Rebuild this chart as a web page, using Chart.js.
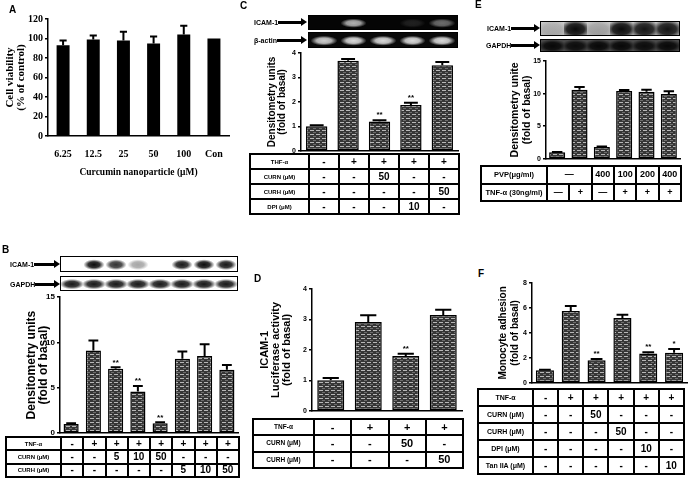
<!DOCTYPE html>
<html>
<head>
<meta charset="utf-8">
<title>ICAM-1 figure</title>
<script src="https://cdn.jsdelivr.net/npm/chart.js@4.4.1/dist/chart.umd.min.js"></script>
<style>
  body { margin: 0; background: #fff; }
  #page { position: relative; width: 688px; height: 478px; overflow: hidden; font-family: Arial, "Liberation Sans", sans-serif; }
  canvas { position: absolute; }
  .letter { position: absolute; font-weight: bold; font-size: 10px; line-height: 1; }
  .tag { position: absolute; display: flex; align-items: center; font-weight: bold; font-size: 7px; height: 10px; white-space: nowrap; }
  .shaft { background: #000; height: 3px; flex: 1; }
  .head { width: 0; height: 0; border-left: 6px solid #000; border-top: 4px solid transparent; border-bottom: 4px solid transparent; }
  .blot { position: absolute; border: 1.5px solid #000; box-sizing: border-box; display: flex; }
  .lane { flex: 1; }
  table.grid { position: absolute; border-collapse: collapse; table-layout: fixed; border: 2.5px solid #000; }
  table.grid td { border: 2px solid #000; text-align: center; padding: 0; font-weight: bold; line-height: 1; overflow: hidden; white-space: nowrap; }
</style>
</head>
<body>
<div id="page">
  <canvas id="chartA"></canvas>
  <canvas id="chartB"></canvas>
  <canvas id="chartC"></canvas>
  <canvas id="chartD"></canvas>
  <canvas id="chartE"></canvas>
  <canvas id="chartF"></canvas>
</div>
<script>
// Panel A - cell viability
const aLabels = ['6.25', '12.5', '25', '50', '100', 'Con'];
const aValues = [93, 99, 98, 95, 104, 100];
const aErrors = [5, 4, 9, 7, 9, 0];

// Panel B - ICAM-1 protein (western blot)
const bValues = [1.0, 9.1, 7.1, 4.6, 1.1, 8.2, 8.5, 7.0];
const bErrors = [0.1, 1.1, 0.15, 0.6, 0.1, 0.8, 1.3, 0.5];
const bStars = ['', '', '**', '**', '**', '', '', ''];
const bRows = [
  ['TNF-α', '-', '+', '+', '+', '+', '+', '+', '+'],
  ['CURN (μM)', '-', '-', '5', '10', '50', '-', '-', '-'],
  ['CURH (μM)', '-', '-', '-', '-', '-', '5', '10', '50']
];
const bIcamBands = [0, 0.95, 0.8, 0.35, 0, 0.9, 0.95, 0.9];
const bGapdhBands = [0.9, 0.9, 0.9, 0.9, 0.9, 0.9, 0.9, 0.9];

// Panel C - ICAM-1 mRNA
const cValues = [1.0, 3.68, 1.2, 1.87, 3.5];
const cErrors = [0.05, 0.07, 0.05, 0.1, 0.13];
const cStars = ['', '', '**', '**', ''];
const cRows = [
  ['THF-α', '-', '+', '+', '+', '+'],
  ['CURN (μM)', '-', '-', '50', '-', '-'],
  ['CURH (μM)', '-', '-', '-', '-', '50'],
  ['DPI (μM)', '-', '-', '-', '10', '-']
];
const cIcamBands = [0, 0.75, 0, 0.12, 0.45];
const cActinBands = [0.85, 0.9, 0.9, 0.9, 0.9];

// Panel D - luciferase activity
const dValues = [1.0, 2.92, 1.8, 3.15];
const dErrors = [0.08, 0.22, 0.07, 0.17];
const dStars = ['', '', '**', ''];
const dRows = [
  ['TNF-α', '-', '+', '+', '+'],
  ['CURN (μM)', '-', '-', '50', '-'],
  ['CURH (μM)', '-', '-', '-', '50']
];

// Panel E - PVP control
const eValues = [1.0, 10.6, 1.8, 10.4, 10.3, 9.95];
const eErrors = [0.05, 0.4, 0.1, 0.15, 0.3, 0.4];
const eRows = [
  ['PVP(μg/ml)', { text: '—', span: 2 }, '400', '100', '200', '400'],
  ['TNF-α (30ng/ml)', '—', '+', '—', '+', '+', '+']
];
const eIcamBands = [0.15, 1, 0.2, 1, 0.95, 0.95];
const eGapdhBands = [0.9, 0.85, 0.9, 0.9, 0.85, 0.9];

// Panel F - monocyte adhesion
const fValues = [1.0, 5.75, 1.8, 5.2, 2.35, 2.4];
const fErrors = [0.05, 0.4, 0.1, 0.25, 0.1, 0.3];
const fStars = ['', '', '**', '', '**', '*'];
const fRows = [
  ['TNF-α', '-', '+', '+', '+', '+', '+'],
  ['CURN (μM)', '-', '-', '50', '-', '-', '-'],
  ['CURH (μM)', '-', '-', '-', '50', '-', '-'],
  ['DPI (μM)', '-', '-', '-', '-', '10', '-'],
  ['Tan IIA (μM)', '-', '-', '-', '-', '-', '10']
];

const page = document.getElementById('page');

// Hatched grey fill used by the densitometry bars
function stripes() {
  const c = document.createElement('canvas');
  c.width = 6; c.height = 4;
  const g = c.getContext('2d');
  g.fillStyle = '#363636';
  g.fillRect(0, 0, 6, 4);
  g.fillStyle = '#b8b8b8';
  g.fillRect(0, 1, 4, 1);
  g.fillStyle = '#6e6e6e';
  g.fillRect(3, 3, 3, 1);
  return g.createPattern(c, 'repeat');
}

// Error bars (upper half only) and significance stars
const errorBars = {
  id: 'errorBars',
  afterDatasetsDraw(chart, args, opts) {
    const { ctx } = chart;
    const y = chart.scales.y;
    const values = chart.data.datasets[0].data;
    ctx.save();
    ctx.strokeStyle = '#000';
    ctx.fillStyle = '#000';
    ctx.lineWidth = opts.lineWidth || 2;
    ctx.textAlign = 'center';
    ctx.textBaseline = 'bottom';
    ctx.font = 'bold 8px Arial';
    chart.getDatasetMeta(0).data.forEach((bar, i) => {
      const err = opts.errors[i] || 0;
      const top = y.getPixelForValue(values[i] + err);
      const half = bar.width * opts.cap / 2;
      if (err > 0) {
        ctx.beginPath();
        ctx.moveTo(bar.x, bar.y);
        ctx.lineTo(bar.x, top);
        ctx.moveTo(bar.x - half, top);
        ctx.lineTo(bar.x + half, top);
        ctx.stroke();
      }
      const star = opts.stars && opts.stars[i];
      if (star) ctx.fillText(star, bar.x, top - 1);
    });
    ctx.restore();
  }
};

function barChart(id, g, labels, values, errors, stars, look) {
  const canvas = document.getElementById(id);
  const padTop = 8;
  const padBottom = g.xHeight ? 0 : 5;
  const canvasTop = g.top - padTop;
  canvas.width = g.right - g.left + 2;
  canvas.height = g.bottom - canvasTop + g.xHeight + padBottom;
  canvas.style.left = g.left + 'px';
  canvas.style.top = canvasTop + 'px';
  const lh = look.titleSize * look.titleLh;
  const tickFont = { family: look.family, size: look.tickSize, weight: 'bold' };

  return new Chart(canvas, {
    type: 'bar',
    data: {
      labels,
      datasets: [{
        data: values,
        backgroundColor: look.fill,
        borderColor: '#000',
        borderWidth: look.border,
        borderSkipped: false,
        barPercentage: look.bar,
        categoryPercentage: 1
      }]
    },
    options: {
      responsive: false,
      animation: false,
      layout: { padding: { top: padTop, right: 2, bottom: padBottom, left: 0 } },
      plugins: {
        legend: { display: false },
        tooltip: { enabled: false },
        errorBars: { errors, stars, cap: look.cap }
      },
      scales: {
        x: {
          grid: { display: false, drawTicks: false },
          border: { display: true, color: '#000', width: 1.5 },
          ticks: { display: !!look.xTicks, font: tickFont, color: '#000', padding: 12, maxRotation: 0, autoSkip: false },
          title: {
            display: !!look.xTitle, text: look.xTitle, color: '#000',
            font: { family: look.family, size: look.xTitleSize, weight: 'bold' },
            padding: { top: 0, bottom: 4 }
          },
          afterFit: s => { s.height = g.xHeight; }
        },
        y: {
          min: 0,
          max: look.yMax,
          ticks: { stepSize: look.yStep, font: tickFont, color: '#000', padding: 2 },
          grid: { display: true, drawOnChartArea: false, drawTicks: true, tickLength: 3, color: '#000', lineWidth: 1.5 },
          border: { display: true, color: '#000', width: 1.5 },
          title: {
            display: true, text: look.yTitle, color: '#000',
            font: { family: look.family, size: look.titleSize, weight: 'bold', lineHeight: look.titleLh },
            padding: { top: g.titleX - g.left - lh / 2, bottom: 0 }
          },
          afterFit: s => { s.width = g.axisX - g.left; }
        }
      }
    },
    plugins: [errorBars]
  });
}

function gridTable(rows, g) {
  const t = document.createElement('table');
  t.className = 'grid';
  t.style.left = g.left + 'px';
  t.style.top = g.top + 'px';
  t.style.width = (g.right - g.left) + 'px';
  const n = rows[0].reduce((s, c) => s + (typeof c === 'object' ? c.span : 1), 0) - 1;
  const cg = document.createElement('colgroup');
  for (let i = 0; i <= n; i++) {
    const col = document.createElement('col');
    col.style.width = (i === 0 ? g.axis - g.left : (g.right - g.axis) / n) + 'px';
    cg.appendChild(col);
  }
  t.appendChild(cg);
  const rh = (g.bottom - g.top) / rows.length;
  rows.forEach(r => {
    const tr = t.insertRow();
    r.forEach((c, i) => {
      const td = tr.insertCell();
      td.textContent = typeof c === 'object' ? c.text : c;
      if (typeof c === 'object') td.colSpan = c.span;
      td.style.height = (rh - 2) + 'px';
      td.style.fontSize = (i === 0 ? g.hs : g.vs) + 'px';
    });
  });
  page.appendChild(t);
}

function blot(g, bands, look) {
  const d = document.createElement('div');
  d.className = 'blot';
  Object.assign(d.style, {
    left: g.left + 'px', top: g.top + 'px',
    width: (g.right - g.left) + 'px', height: (g.bottom - g.top) + 'px',
    background: look.bg
  });
  bands.forEach(a => {
    const l = document.createElement('div');
    l.className = 'lane';
    l.style.background = `radial-gradient(ellipse ${look.w}% ${look.h}% at 50% 55%, rgba(${look.rgb},${a}) 0%, rgba(${look.rgb},${a * 0.85}) 55%, rgba(${look.rgb},0) 100%)`;
    d.appendChild(l);
  });
  page.appendChild(d);
}

function tag(text, x, yc, end) {
  const d = document.createElement('div');
  d.className = 'tag';
  d.style.left = x + 'px';
  d.style.top = (yc - 5) + 'px';
  d.style.width = (end - x) + 'px';
  d.innerHTML = `<span>${text}</span><div class="shaft"></div><div class="head"></div>`;
  page.appendChild(d);
}

function letter(text, x, y) {
  const d = document.createElement('div');
  d.className = 'letter';
  d.textContent = text;
  d.style.left = x + 'px';
  d.style.top = y + 'px';
  page.appendChild(d);
}

const fill = stripes();
const lanes = v => v.map((_, i) => 'lane ' + (i + 1));

// ---- Panel A ----
letter('A', 9, 5);
barChart('chartA', { left: 0, axisX: 48, top: 19, bottom: 136, right: 233, xHeight: 46, titleX: 10 },
  aLabels, aValues, aErrors, null,
  { family: 'Liberation Serif', tickSize: 10, titleSize: 11, titleLh: 1.0, yTitle: ['Cell viability', '(% of control)'],
    xTicks: true, xTitle: 'Curcumin nanoparticle (μM)', xTitleSize: 9.5,
    yMax: 120, yStep: 20, fill: '#000', border: 0, bar: 0.43, cap: 0.55 });

// ---- Panel B ----
letter('B', 2, 245);
tag('ICAM-1', 10, 264, 60);
tag('GAPDH', 10, 284, 60);
blot({ left: 60, right: 238, top: 256, bottom: 272 }, bIcamBands, { bg: '#fff', rgb: '0,0,0', w: 48, h: 38 });
blot({ left: 60, right: 238, top: 276, bottom: 291 }, bGapdhBands, { bg: '#fff', rgb: '0,0,0', w: 55, h: 40 });
barChart('chartB', { left: 18, axisX: 60, top: 297, bottom: 435, right: 238, xHeight: 0, titleX: 32 },
  lanes(bValues), bValues, bErrors, bStars,
  { family: 'Arial', tickSize: 8, titleSize: 12, titleLh: 1.0, yTitle: ['Densitometry units', '(fold of basal)'],
    yMax: 15, yStep: 5, fill, border: 1.5, bar: 0.68, cap: 0.65 });
gridTable(bRows, { left: 5, axis: 60, right: 238, top: 436, bottom: 476, hs: 6, vs: 10 });

// ---- Panel C ----
letter('C', 240, 1);
tag('ICAM-1', 254, 22, 307);
tag('β-actin', 254, 40, 307);
blot({ left: 308, right: 458, top: 15, bottom: 30 }, cIcamBands, { bg: '#050505', rgb: '235,235,235', w: 45, h: 35 });
blot({ left: 308, right: 458, top: 32, bottom: 48 }, cActinBands, { bg: '#0a0a0a', rgb: '240,240,240', w: 45, h: 35 });
barChart('chartC', { left: 262, axisX: 301, top: 53, bottom: 152, right: 458, xHeight: 0, titleX: 272 },
  lanes(cValues), cValues, cErrors, cStars,
  { family: 'Arial', tickSize: 7, titleSize: 10, titleLh: 1.0, yTitle: ['Densitometry units', '(fold of basal)'],
    yMax: 4, yStep: 1, fill, border: 1.5, bar: 0.68, cap: 0.65 });
gridTable(cRows, { left: 249, axis: 308, right: 458, top: 153, bottom: 213, hs: 6, vs: 10 });

// ---- Panel D ----
letter('D', 254, 274);
barChart('chartD', { left: 253, axisX: 312, top: 289, bottom: 412, right: 462, xHeight: 0, titleX: 265 },
  lanes(dValues), dValues, dErrors, dStars,
  { family: 'Arial', tickSize: 7, titleSize: 11, titleLh: 1.0, yTitle: ['ICAM-1', 'Luciferase activity', '(fold of basal)'],
    yMax: 4, yStep: 1, fill, border: 1.5, bar: 0.72, cap: 0.6 });
gridTable(dRows, { left: 252, axis: 313, right: 462, top: 418, bottom: 467, hs: 6.5, vs: 11 });

// ---- Panel E ----
letter('E', 475, 0);
tag('ICAM-1', 487, 28, 540);
tag('GAPDH', 486, 45, 540);
blot({ left: 540, right: 680, top: 21, bottom: 36 }, eIcamBands, { bg: 'linear-gradient(#cfcfcf, #bdbdbd)', rgb: '10,10,10', w: 70, h: 75 });
blot({ left: 540, right: 680, top: 39, bottom: 52 }, eGapdhBands, { bg: '#4a4a4a', rgb: '0,0,0', w: 65, h: 60 });
barChart('chartE', { left: 505, axisX: 546, top: 61, bottom: 160, right: 680, xHeight: 0, titleX: 515 },
  lanes(eValues), eValues, eErrors, null,
  { family: 'Arial', tickSize: 7, titleSize: 10.5, titleLh: 1.15, yTitle: ['Densitometry unite', '(fold of basal)'],
    yMax: 15, yStep: 5, fill, border: 1.5, bar: 0.72, cap: 0.65 });
gridTable(eRows, { left: 480, axis: 546, right: 680, top: 165, bottom: 200, hs: 7.5, vs: 9 });

// ---- Panel F ----
letter('F', 478, 269);
barChart('chartF', { left: 492, axisX: 532, top: 283, bottom: 384, right: 687, xHeight: 0, titleX: 503 },
  lanes(fValues), fValues, fErrors, fStars,
  { family: 'Arial', tickSize: 7, titleSize: 10, titleLh: 1.2, yTitle: ['Monocyte adhesion', '(fold of basal)'],
    yMax: 8, yStep: 2, fill, border: 1.5, bar: 0.7, cap: 0.65 });
gridTable(fRows, { left: 477, axis: 532, right: 683, top: 388, bottom: 473, hs: 7, vs: 10 });
</script>
</body>
</html>
